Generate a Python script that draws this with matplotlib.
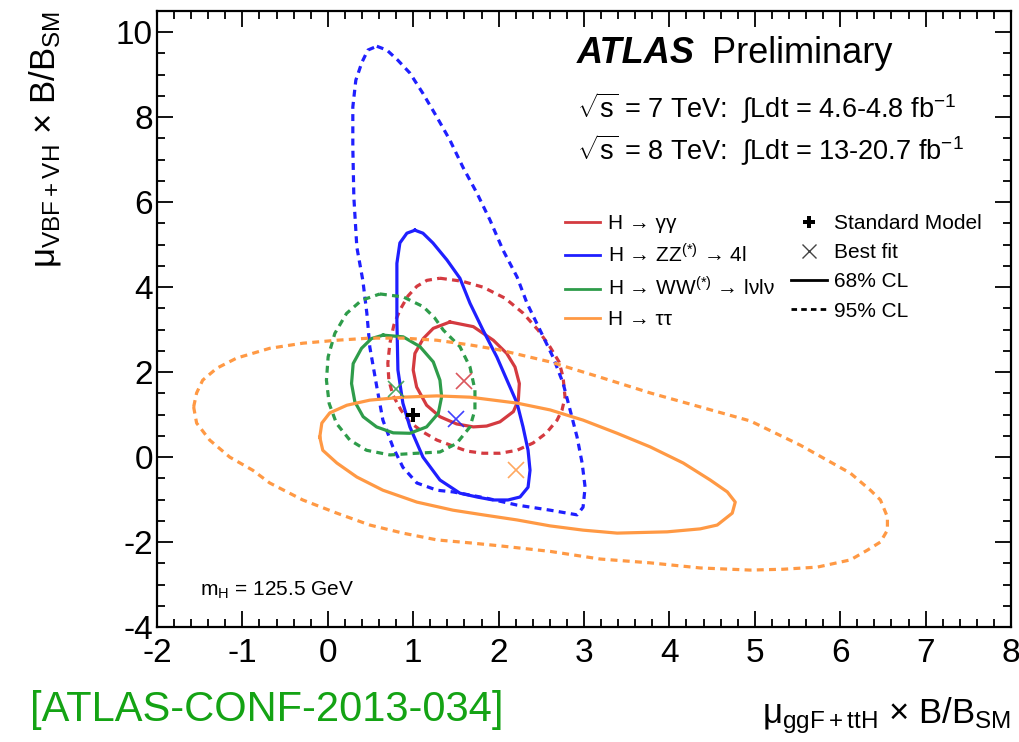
import numpy as np
import matplotlib
matplotlib.use("Agg")
import matplotlib.pyplot as plt
from matplotlib.lines import Line2D
from matplotlib.ticker import MultipleLocator

plt.rcParams['font.family'] = ['Liberation Sans', 'DejaVu Sans']
plt.rcParams['mathtext.fontset'] = 'custom'
plt.rcParams['mathtext.rm'] = 'Liberation Sans'
plt.rcParams['mathtext.it'] = 'Liberation Sans:italic'
plt.rcParams['mathtext.bf'] = 'Liberation Sans:bold'
plt.rcParams['axes.unicode_minus'] = False
plt.rcParams['lines.scale_dashes'] = False

# contour points (mu_ggF+ttH, mu_VBF+VH)
gg68_x = [1.430, 1.704, 1.938, 2.095, 2.192, 2.243, 2.231, 2.173, 2.016, 1.860, 1.704, 1.508,
          1.313, 1.157, 1.040, 1.000, 1.020, 1.118, 1.235]
gg68_y = [3.18, 3.07, 2.75, 2.44, 2.12, 1.73, 1.34, 1.07, 0.83, 0.73, 0.71, 0.78,
          0.95, 1.22, 1.65, 2.05, 2.44, 2.79, 3.03]
gg95_x = [1.313, 1.571, 1.817, 2.075, 2.286, 2.462, 2.603, 2.708, 2.755, 2.778, 2.743, 2.685,
          2.556, 2.403, 2.216, 2.016, 1.817, 1.630, 1.465, 1.278, 1.114, 0.961, 0.856, 0.762,
          0.715, 0.703, 0.727, 0.774, 0.844, 0.938, 1.043, 1.161]
gg95_y = [4.21, 4.14, 4.00, 3.74, 3.39, 2.99, 2.59, 2.24, 1.88, 1.41, 1.11, 0.87,
          0.56, 0.33, 0.16, 0.09, 0.09, 0.14, 0.26, 0.40, 0.59, 0.82, 1.11, 1.46,
          1.81, 2.21, 2.68, 3.11, 3.46, 3.79, 4.02, 4.16]

zz68_x = [1.020, 1.114, 1.231, 1.395, 1.547, 1.665, 1.817, 1.981, 2.098, 2.216, 2.286, 2.345,
          2.368, 2.345, 2.251, 2.110, 1.934, 1.747, 1.547, 1.313, 1.114, 0.961, 0.879, 0.821,
          0.809, 0.809, 0.809, 0.844, 0.926]
zz68_y = [5.34, 5.27, 5.04, 4.64, 4.21, 3.62, 2.99, 2.35, 1.81, 1.27, 0.71, 0.16,
          -0.31, -0.71, -0.94, -1.01, -1.01, -0.94, -0.85, -0.54, 0.00, 0.71, 1.27, 2.05,
          3.22, 4.40, 4.56, 5.04, 5.27]
zz95_x = [0.574, 0.692, 0.821, 0.961, 1.114, 1.278, 1.430, 1.583, 1.747, 1.899, 2.052, 2.216,
          2.333, 2.485, 2.638, 2.755, 2.837, 2.919, 2.978, 3.013, 2.989, 2.919, 2.603, 2.216,
          1.841, 1.465, 1.278, 1.043, 0.879, 0.762, 0.645, 0.574, 0.492, 0.457, 0.410, 0.340,
          0.305, 0.293, 0.293, 0.328, 0.399, 0.469]
zz95_y = [9.67, 9.58, 9.34, 9.04, 8.56, 8.00, 7.46, 6.82, 6.21, 5.58, 4.87, 4.24,
          3.62, 2.99, 2.35, 1.74, 1.11, 0.47, -0.14, -0.71, -1.18, -1.36, -1.25, -1.13,
          -0.96, -0.82, -0.78, -0.61, -0.24, 0.24, 0.87, 1.65, 2.59, 3.39, 4.16, 4.94,
          6.12, 7.29, 8.24, 8.87, 9.29, 9.58]

ww68_x = [0.648, 0.883, 1.079, 1.235, 1.313, 1.333, 1.294, 1.157, 0.961, 0.766, 0.571, 0.414,
          0.317, 0.278, 0.297, 0.395, 0.512]
ww68_y = [2.87, 2.83, 2.60, 2.24, 1.81, 1.42, 1.03, 0.71, 0.56, 0.57, 0.71, 0.95,
          1.30, 1.73, 2.20, 2.56, 2.79]
ww95_x = [0.610, 0.883, 1.118, 1.250, 1.352, 1.547, 1.665, 1.723, 1.723, 1.665, 1.508, 1.313,
          1.040, 0.727, 0.454, 0.258, 0.102, 0.016, -0.016, 0.004, 0.082, 0.219, 0.395]
ww95_y = [3.84, 3.77, 3.54, 3.28, 2.99, 2.60, 2.12, 1.58, 1.11, 0.71, 0.32, 0.12,
          0.09, 0.05, 0.16, 0.40, 0.79, 1.26, 1.81, 2.36, 2.91, 3.38, 3.69]

tt68_x = [-0.094, -0.070, 0.023, 0.223, 0.492, 0.879, 1.278, 1.665, 2.216, 2.603, 2.989, 3.388,
          3.775, 4.162, 4.478, 4.678, 4.771, 4.736, 4.560, 4.361, 3.974, 3.388, 2.989, 2.603,
          2.216, 1.817, 1.465, 1.043, 0.645, 0.340, 0.106, -0.059]
tt68_y = [0.47, 0.80, 1.04, 1.22, 1.34, 1.41, 1.44, 1.41, 1.27, 1.11, 0.87, 0.56,
          0.24, -0.14, -0.54, -0.82, -1.06, -1.32, -1.60, -1.69, -1.76, -1.79, -1.72, -1.62,
          -1.48, -1.36, -1.25, -1.06, -0.78, -0.47, -0.14, 0.16]
tt95_x = [-1.571, -1.536, -1.465, -1.301, -1.067, -0.680, -0.293, 0.106, 0.492, 0.879, 1.278, 1.665,
          2.016, 2.603, 3.189, 3.775, 4.361, 4.947, 5.533, 6.120, 6.354, 6.471, 6.553, 6.553,
          6.471, 6.319, 6.120, 5.733, 5.334, 4.947, 4.361, 3.775, 3.189, 2.603, 2.016, 1.665,
          1.278, 0.879, 0.492, 0.106, -0.293, -0.680, -0.879, -1.149, -1.383, -1.536]
tt95_y = [1.18, 1.51, 1.81, 2.09, 2.33, 2.56, 2.68, 2.75, 2.80, 2.80, 2.75, 2.64,
          2.52, 2.24, 1.88, 1.51, 1.18, 0.85, 0.28, -0.38, -0.78, -1.01, -1.41, -1.72,
          -2.00, -2.19, -2.42, -2.59, -2.64, -2.66, -2.61, -2.49, -2.40, -2.22, -2.09, -2.02,
          -1.95, -1.79, -1.60, -1.32, -1.01, -0.61, -0.31, 0.00, 0.40, 0.80]

best_x = [1.6, 1.5, 0.8, 2.2]
best_y = [1.8, 0.9, 1.6, -0.3]
sm_x, sm_y = 1.0, 1.0

channels = [r'H → γγ', r'H → ZZ$^{\mathrm{(*)}}$ → 4l', r'H → WW$^{\mathrm{(*)}}$ → lνlν', r'H → ττ']
colors = ['#d43a40', '#1f1fff', '#2e9c4a', '#ff9944']
contours68 = [(gg68_x, gg68_y), (zz68_x, zz68_y), (ww68_x, ww68_y), (tt68_x, tt68_y)]
contours95 = [(gg95_x, gg95_y), (zz95_x, zz95_y), (ww95_x, ww95_y), (tt95_x, tt95_y)]

fig = plt.figure(figsize=(10.2, 7.42), dpi=100)
ax = fig.add_axes([157 / 1020, 1 - 627 / 742, 854 / 1020, 616 / 742])

for c, (x68, y68), (x95, y95) in zip(colors, contours68, contours95):
    ax.plot(np.append(x68, x68[0]), np.append(y68, y68[0]), color=c, lw=2.3,
            solid_joinstyle='round')
    ln, = ax.plot(np.append(x95, x95[0]), np.append(y95, y95[0]), color=c, lw=2.3)
    ln.set_dashes([5, 3.8])

for c, bx, by in zip(colors, best_x, best_y):
    ax.plot(bx, by, marker='x', color=c, ms=11, mew=1.2, alpha=0.85)
ax.plot(sm_x, sm_y, marker='P', color='black', ms=10, mew=0)

ax.set_xlim(-2, 8)
ax.set_ylim(-4, 10.5)
ax.xaxis.set_major_locator(MultipleLocator(1))
ax.xaxis.set_minor_locator(MultipleLocator(0.2))
ax.yaxis.set_major_locator(MultipleLocator(2))
ax.yaxis.set_minor_locator(MultipleLocator(0.5))
ax.tick_params(which='both', direction='in', top=True, right=True, width=1.3, labelsize=24)
ax.tick_params(which='major', length=11.5)
ax.tick_params(which='minor', length=6)
ax.tick_params(axis='x', pad=8)
ax.tick_params(axis='y', pad=3)
for s in ax.spines.values():
    s.set_linewidth(1.6)

ax.set_xlabel(r'μ$_{\mathrm{ggF+ttH}}$ × B/B$_{\mathrm{SM}}$', fontsize=25, loc='right', labelpad=19)
ax.set_ylabel(r'μ$_{\mathrm{VBF+VH}}$ × B/B$_{\mathrm{SM}}$', fontsize=25, loc='top', labelpad=38)

handles = [Line2D([], [], color=c, lw=2) for c in colors]
handles += [Line2D([], [], ls='none', marker='P', color='black', ms=9, mew=0),
            Line2D([], [], ls='none', marker='x', color='#444444', ms=10, mew=1),
            Line2D([], [], color='black', lw=2),
            Line2D([], [], color='black', lw=2, dashes=[4, 3])]
labels = channels + ['Standard Model', 'Best fit', '68% CL', '95% CL']
ax.legend(handles, labels, ncol=2, frameon=False, fontsize=15, loc='upper left',
          bbox_to_anchor=(565 / 1020, 1 - 214 / 742), bbox_transform=fig.transFigure,
          borderpad=0, borderaxespad=0, handlelength=1.7, handletextpad=0.35,
          columnspacing=0.8, labelspacing=0.49)

fig.text(577 / 1020, 1 - 63 / 742, 'ATLAS', fontsize=26, fontweight='bold', style='italic', va='baseline')
fig.text(712 / 1020, 1 - 63 / 742, 'Preliminary', fontsize=26, va='baseline')
fig.text(577 / 1020, 1 - 118 / 742, r'$\sqrt{\mathrm{s}}$ = 7 TeV:  ∫Ldt = 4.6-4.8 fb$^{\mathrm{-1}}$',
         fontsize=19.5, va='baseline')
fig.text(577 / 1020, 1 - 160 / 742, r'$\sqrt{\mathrm{s}}$ = 8 TeV:  ∫Ldt = 13-20.7 fb$^{\mathrm{-1}}$',
         fontsize=19.5, va='baseline')
fig.text(200 / 1020, 1 - 596 / 742, r'm$_{\mathrm{H}}$ = 125.5 GeV', fontsize=15, va='baseline')
fig.text(30 / 1020, 1 - 710 / 742, '[ATLAS-CONF-2013-034]', fontsize=30, color='#14a314', va='center')

fig.savefig('out.png', dpi=100)
